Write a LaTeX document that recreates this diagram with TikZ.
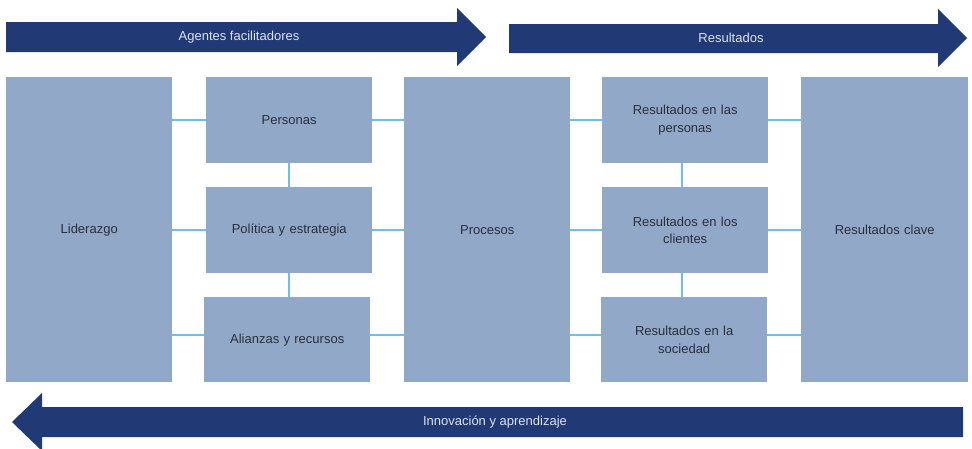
\documentclass[tikz,border=0pt]{standalone}
\usepackage{fontspec}
\setmainfont{Liberation Sans}
\begin{document}
\begin{tikzpicture}[x=1pt,y=-1pt,
  box/.style={fill=boxfill, draw=none, text=boxtext, align=center, anchor=north west,
    inner sep=2pt, font=\fontsize{13}{17.5}\selectfont},
  link/.style={draw=linkblue, line width=1.5pt},
  band/.style={fill=navy, draw=none},
  bandtext/.style={text=bandtext, font=\fontsize{13}{15.5}\selectfont, inner sep=0pt}]
\definecolor{boxfill}{HTML}{91A8C8}
\definecolor{boxtext}{HTML}{2A2F3C}
\definecolor{linkblue}{HTML}{6CC0E8}
\definecolor{navy}{HTML}{213A76}
\definecolor{bandtext}{HTML}{DDE2EC}
\useasboundingbox (0,0) rectangle (972,448);
\clip (0,0) rectangle (972,448);

% direction bands
\fill[band] (6,22) -- (457,22) -- (457,8) -- (486,37) -- (457,66) -- (457,52) -- (6,52) -- cycle;
\node[bandtext] (agentes) at (239,37) {Agentes facilitadores};
\fill[band] (509,24) -- (938,24) -- (938,9) -- (967,38) -- (938,67) -- (938,53) -- (509,53) -- cycle;
\node[bandtext] (resultados) at (731,38) {Resultados};
\fill[band] (963,407) -- (42,407) -- (42,393) -- (12,422) -- (42,451) -- (42,437) -- (963,437) -- cycle;
\node[bandtext] (innov) at (495,422) {Innovación y aprendizaje};

% blocks
\node[box, minimum width=166pt, minimum height=305pt, text width=160pt] (lid) at (6,77) {Liderazgo};
\node[box, minimum width=166pt, minimum height=86pt, text width=160pt] (per) at (206,77) {Personas};
\node[box, minimum width=166pt, minimum height=86pt, text width=160pt] (pol) at (206,187) {Política y estrategia};
\node[box, minimum width=166pt, minimum height=85pt, text width=160pt] (ali) at (204,297) {Alianzas y recursos};
\node[box, minimum width=166pt, minimum height=305pt, text width=160pt] (proc) at (404,77) {Procesos};
\node[box, minimum width=166pt, minimum height=86pt, text width=130pt] (rp) at (602,77) {Resultados en las\\personas};
\node[box, minimum width=166pt, minimum height=86pt, text width=130pt] (rc) at (602,187) {Resultados en los\\clientes};
\node[box, minimum width=166pt, minimum height=85pt, text width=130pt] (rs) at (601,297) {Resultados en la\\sociedad};
\node[box, minimum width=167pt, minimum height=305pt, text width=160pt] (rk) at (801,77) {Resultados clave};

% horizontal links between the columns
\foreach \row/\right in {per/rp, pol/rc} {
  \draw[link] (lid.east |- \row.west) -- (\row.west);
  \draw[link] (\row.east) -- (proc.west |- \row.east);
  \draw[link] (proc.east |- \right.west) -- (\right.west);
  \draw[link] (\right.east) -- (rk.west |- \right.east);
}
\draw[link] (lid.east |- 0,335) -- (ali.west |- 0,335);
\draw[link] (ali.east |- 0,335) -- (proc.west |- 0,335);
\draw[link] (proc.east |- 0,335) -- (rs.west |- 0,335);
\draw[link] (rs.east |- 0,335) -- (rk.west |- 0,335);

% vertical links inside the stacks
\draw[link] (per.south) -- (pol.north);
\draw[link] (pol.south) -- (pol.south |- ali.north);
\draw[link] ([xshift=-3pt]rp.south) -- ([xshift=-3pt]rc.north);
\draw[link] ([xshift=-3pt]rc.south) -- ([xshift=-3pt]rc.south |- rs.north);
\end{tikzpicture}
\end{document}
